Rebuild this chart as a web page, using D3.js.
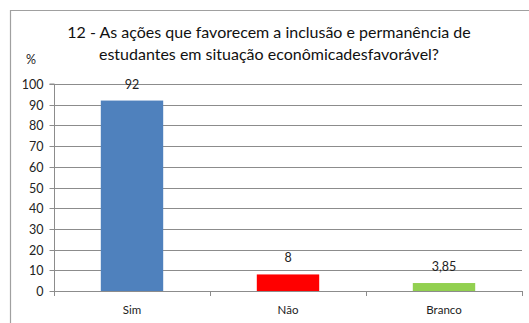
<!DOCTYPE html>
<html><head><meta charset="utf-8">
<script src="https://cdn.jsdelivr.net/npm/d3@7"></script>
<style>
html,body{margin:0;padding:0;background:#fff;}
svg{display:block;font-family:Lato,"Open Sans",sans-serif;}
</style></head>
<body>
<svg id="chart" width="529" height="323"></svg>
<script>
const categories = ["Sim", "Não", "Branco"];
const values = [92, 8, 3.85];
const valueLabels = ["92", "8", "3,85"];
const barColors = ["#4f81bd", "#ff0000", "#92d050"];
const yTicks = [0, 10, 20, 30, 40, 50, 60, 70, 80, 90, 100];
const titleLines = ["12 - As ações que favorecem a inclusão e permanência de", "estudantes em situação econômicadesfavorável?"];

const svg = d3.select("#chart");
const plot = {left: 54, right: 522, top: 84, bottom: 291};

// outer frame
svg.append("path")
  .attr("d", `M10.5,323 V10.5 H529`)
  .attr("fill", "none").attr("stroke", "#a0a0a0").attr("stroke-width", 1.2);

const x = d3.scaleBand().domain(categories).range([plot.left, plot.right]).paddingInner(0.6).paddingOuter(0.3);
const y = d3.scaleLinear().domain([0, 100]).range([plot.bottom, plot.top]);

// gridlines
svg.append("g").selectAll("line").data(yTicks.filter(d => d > 0)).join("line")
  .attr("x1", plot.left).attr("x2", plot.right)
  .attr("y1", d => Math.round(y(d)) + 0.5).attr("y2", d => Math.round(y(d)) + 0.5)
  .attr("stroke", "#8c8c8c").attr("stroke-width", 1);

// y axis
const yAxis = svg.append("g").attr("transform", `translate(${plot.left + 0.5},0)`)
  .call(d3.axisLeft(y).tickValues(yTicks).tickSize(5).tickPadding(6).tickFormat(d3.format("d")));
yAxis.select(".domain").attr("stroke", "#8c8c8c").attr("d", `M-5,${plot.top}H0V${plot.bottom}`);
yAxis.selectAll(".tick line").attr("stroke", "#8c8c8c");
yAxis.selectAll("text").attr("font-size", 12.5).attr("fill", "#222").attr("font-family", "Lato, sans-serif");
yAxis.selectAll(".tick").attr("transform", d => `translate(0,${Math.round(y(d)) + 0.5})`);

// bars
svg.append("g").selectAll("rect").data(values).join("rect")
  .attr("x", (d, i) => x(categories[i]))
  .attr("width", x.bandwidth())
  .attr("y", d => y(d))
  .attr("height", d => y(0) - y(d))
  .attr("fill", (d, i) => barColors[i]);

// x axis baseline with category boundary ticks
const step = (plot.right - plot.left) / categories.length;
const xg = svg.append("g");
xg.append("line").attr("x1", plot.left).attr("x2", plot.right)
  .attr("y1", plot.bottom + 0.5).attr("y2", plot.bottom + 0.5).attr("stroke", "#8c8c8c");
xg.selectAll("line.t").data(d3.range(categories.length + 1)).join("line").attr("class", "t")
  .attr("x1", i => Math.round(plot.left + i * step) + 0.5).attr("x2", i => Math.round(plot.left + i * step) + 0.5)
  .attr("y1", plot.bottom).attr("y2", plot.bottom + 5).attr("stroke", "#8c8c8c");
xg.selectAll("text").data(categories).join("text")
  .attr("x", d => x(d) + x.bandwidth() / 2).attr("y", 314)
  .attr("text-anchor", "middle").attr("font-size", 11.5).attr("fill", "#222").text(d => d);

// value labels
svg.append("g").selectAll("text").data(values).join("text")
  .attr("x", (d, i) => x(categories[i]) + x.bandwidth() / 2)
  .attr("y", d => y(d) - 12)
  .attr("text-anchor", "middle").attr("font-size", 12.5).attr("fill", "#222")
  .text((d, i) => valueLabels[i]);

// title
svg.append("g").selectAll("text").data(titleLines).join("text")
  .attr("x", 269).attr("y", (d, i) => 38 + i * 22)
  .attr("text-anchor", "middle").attr("font-size", 16).attr("fill", "#111")
  .text(d => d);

// unit label
svg.append("text").attr("x", 31).attr("y", 64).attr("text-anchor", "middle")
  .attr("font-size", 12.5).attr("fill", "#222").text("%");
</script>
</body></html>
